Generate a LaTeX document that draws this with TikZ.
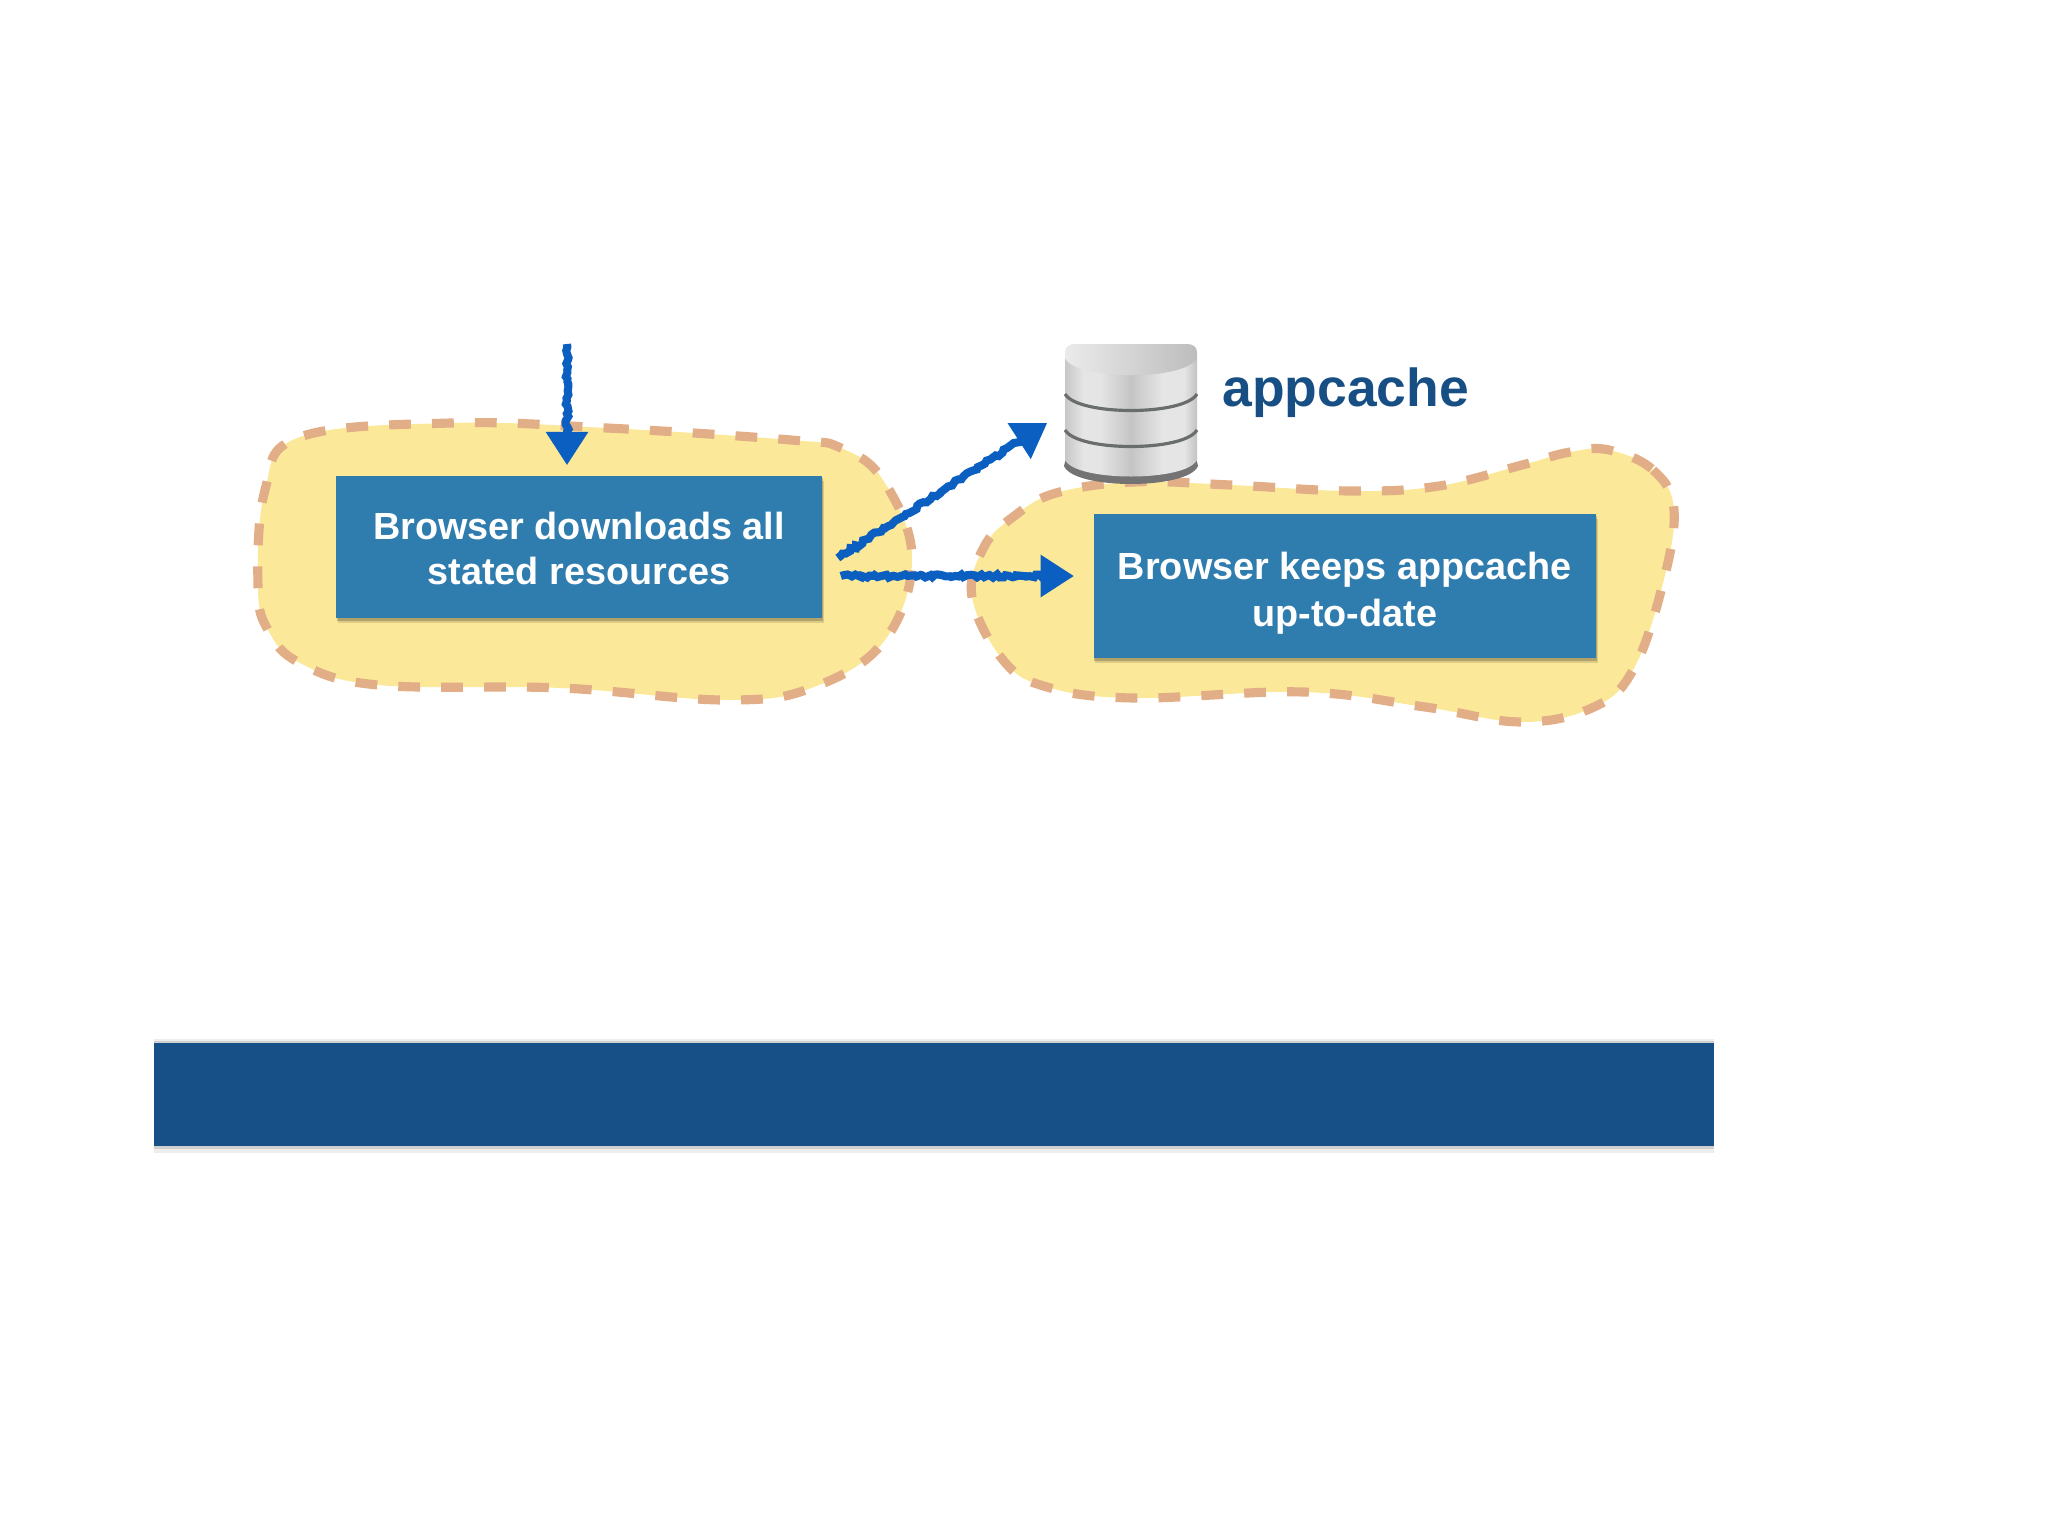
\documentclass[tikz,border=0pt]{standalone}
\usepackage{fontspec}
\setmainfont{Liberation Sans}
\usetikzlibrary{arrows.meta,positioning,shadows,decorations.pathmorphing}
\definecolor{blobfill}{HTML}{FBE898}
\definecolor{blobline}{HTML}{E2AE87}
\definecolor{boxblue}{HTML}{2F7CAE}
\definecolor{barblue}{HTML}{165087}
\definecolor{labelblue}{HTML}{174F85}
\definecolor{penblue}{HTML}{0B5FC0}
\definecolor{ringgray}{HTML}{6A6E6B}
\pgfdeclarehorizontalshading{dbmetal}{100bp}{color(0bp)=(black!22);color(25bp)=(black!22);color(32bp)=(black!10);color(38bp)=(black!10);color(50bp)=(black!23);color(62bp)=(black!10);color(70bp)=(black!10);color(75bp)=(black!24);color(100bp)=(black!24)}
\tikzset{
  >=Latex,
  blob/.style={draw=blobline,fill=blobfill,line width=2.6pt,dash pattern=on 6.2pt off 6pt},
  stagebox/.style={fill=boxblue,text=white,align=center,inner sep=0pt,
    general shadow={shadow xshift=.5pt,shadow yshift=-1.4pt,fill=black,opacity=.12},
    general shadow={shadow xshift=.2pt,shadow yshift=-.7pt,fill=black,opacity=.2}},
  penarrow/.style={-{Triangle[length=9.5pt,width=11.5pt]},draw=penblue,fill=penblue,line width=2.3pt,
    decorate,decoration={random steps,segment length=.9pt,amplitude=.45pt,post length=8pt}},
  ring/.style={draw=ringgray,line width=.9pt},
  dbnode/.style={minimum width=1.32cm,minimum height=1.39cm,inner sep=0pt},
  cachelabel/.style={text=labelblue,font=\fontsize{15.2}{18}\selectfont\bfseries,inner sep=0pt},
  footerbar/.style={fill=barblue,minimum width=15.6cm,minimum height=1.02cm,inner sep=0pt,
    general shadow={shadow xshift=0pt,shadow yshift=-2pt,fill=black,opacity=.07},
    general shadow={shadow xshift=0pt,shadow yshift=1.4pt,fill=black,opacity=.07},
    general shadow={shadow xshift=0pt,shadow yshift=-1pt,fill=black,opacity=.12},
    general shadow={shadow xshift=0pt,shadow yshift=.7pt,fill=black,opacity=.12}}
}
\begin{document}
\begin{tikzpicture}[x=0.01cm,y=-0.01cm,node distance=8mm and 12mm]
  \useasboundingbox (0,0) rectangle (2048,1536);
  \pgfmathsetseed{7}

  % regions
  \draw[blob] plot[smooth cycle,tension=.65] coordinates {(451,423) (607,428) (791,440) (841,448) (883,480) (912,557) (885,640) (814,687) (727,700) (561,688) (378,685) (300,663) (268,630) (258,587) (265,490) (300,437)};
  \draw[blob] plot[smooth cycle,tension=.65] coordinates {(1609,450) (1653,470) (1674,510) (1662,587) (1633,670) (1594,707) (1522,722) (1425,707) (1304,692) (1134,698) (1047,687) (1003,660) (972,597) (984,547) (1013,517) (1056,493) (1134,482) (1231,485) (1352,491) (1439,486) (1522,465) (1570,452)};

  \node[stagebox,font=\fontsize{10.75}{12.8}\selectfont\bfseries,text height=21.6pt,minimum width=4.86cm,minimum height=1.42cm] (download) at (579,547) {Browser downloads all\\stated resources};
  \node[stagebox,font=\fontsize{10.75}{13.4}\selectfont\bfseries,text height=25.2pt,minimum width=5.02cm,minimum height=1.44cm,right=2.70cm of download,yshift=-0.39cm] (update) {Browser keeps appcache\\up-to-date};

  % database
  \node[dbnode] (appdb) at (1131,413) {};
  \fill[black!55] (1066,458) -- (1196,458) -- (1198,466) .. controls (1188,490) and (1074,490) .. (1064,466) -- cycle;
  \shade[shading=dbmetal] (1065,358) -- (1065,460) .. controls (1076,482) and (1186,482) .. (1197,460) -- (1197,358) -- cycle;
  \shade[left color=black!8,right color=black!26] (1065,358) -- (1065,352) .. controls (1065,347) and (1069,344) .. (1075,344) -- (1187,344) .. controls (1193,344) and (1197,347) .. (1197,352) -- (1197,358) .. controls (1186,381) and (1076,381) .. (1065,358) -- cycle;
  \draw[ring] (1065,394) .. controls (1078,416) and (1184,416) .. (1197,394);
  \draw[ring] (1065,430) .. controls (1078,452) and (1184,452) .. (1197,430);
  \node[cachelabel,right=.24cm of appdb,yshift=.2cm] (cachename) {appcache};

  \coordinate (entry) at (567,344);
  \draw[penarrow] (entry) -- ([yshift=.1cm]download.north -| entry);
  \draw[penarrow] ([shift={(15,11)}]download.east) -- ([shift={(-17,10)}]appdb.west);
  \draw[penarrow] ([shift={(18,29)}]download.east) -- ([shift={(-19,-10)}]update.west);

  \node[footerbar] (footer) at (934,1094.5) {};
\end{tikzpicture}
\end{document}
